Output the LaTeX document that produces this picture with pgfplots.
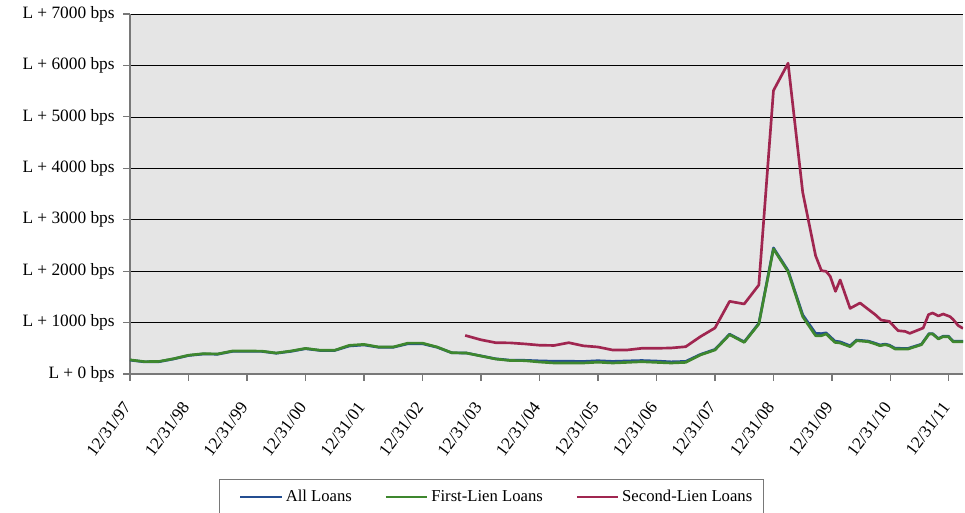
\documentclass[border=0pt]{standalone}
\usepackage{fontspec}
\setmainfont{Liberation Serif}
\usepackage{pgfplots}
\pgfplotsset{compat=1.18}

\definecolor{allblue}{RGB}{36,78,145}
\definecolor{firstgreen}{RGB}{62,135,46}
\definecolor{secondred}{RGB}{160,38,80}
\definecolor{plotbg}{RGB}{229,229,229}
\definecolor{axgray}{RGB}{120,120,120}

\begin{document}
\begin{tikzpicture}
\useasboundingbox (-97.5pt,-103.5pt) rectangle (626.25pt,280.5pt);
\begin{axis}[
    at={(0,0)}, anchor=south west,
    width=624.75pt, height=270pt, scale only axis,
    xmin=0, xmax=14.24, ymin=0, ymax=7000,
    axis background/.style={fill=plotbg},
    axis x line*=bottom, axis y line*=left,
    axis line style={axgray, line width=0.8pt, -},
    tick align=outside, major tick length=5pt,
    tick style={axgray, line width=0.8pt},
    xtick={0,...,14},
    xticklabels={12/31/97,12/31/98,12/31/99,12/31/00,12/31/01,12/31/02,12/31/03,12/31/04,12/31/05,12/31/06,12/31/07,12/31/08,12/31/09,12/31/10,12/31/11},
    xticklabel shift=15pt,
    xticklabel style={rotate=53, anchor=east, font=\fontsize{13}{15}\selectfont},
    ytick={0,1000,...,7000},
    yticklabels={L + 0 bps,L + 1000 bps,L + 2000 bps,L + 3000 bps,L + 4000 bps,L + 5000 bps,L + 6000 bps,L + 7000 bps},
    yticklabel style={font=\fontsize{13}{15}\selectfont, xshift=-3pt},
    ymajorgrids, major grid style={black, line width=0.5pt},
    legend columns=3,
    legend style={at={(0.4334,-0.292)}, anchor=north, draw=axgray, line width=0.6pt,
        font=\fontsize{12.5}{14}\selectfont, inner xsep=6pt, inner ysep=6pt,
        /tikz/column 2/.style={column sep=13.5pt},
        /tikz/column 4/.style={column sep=13.5pt}},
    legend image code/.code={\path (0pt,0pt); \draw[#1, line width=2pt] (9pt,0pt) -- (40pt,0pt);},
    every axis plot/.append style={line width=2pt, line join=round}
]
\addplot[allblue] coordinates {
(0,270)(0.25,236)(0.5,240)(0.75,294)(1,360)(1.25,388)(1.5,385)(1.75,440)(2,440)(2.25,440)(2.5,404)(2.75,440)(3,492)(3.25,458)(3.5,458)(3.75,545)(4,565)(4.25,520)(4.5,520)(4.75,588)(5,588)(5.25,520)(5.5,412)(5.75,408)(6,352)(6.25,296)(6.5,268)(6.75,266)(7,255)(7.25,248)(7.5,248)(7.75,244)(8,258)(8.25,245)(8.5,254)(8.75,262)(9,252)(9.25,236)(9.5,245)(9.75,380)(10,478)(10.25,775)(10.5,625)(10.75,985)(11,2452)(11.25,2010)(11.5,1150)(11.72,790)(11.82,785)(11.9,800)(12.05,640)(12.14,625)(12.31,550)(12.42,660)(12.62,640)(12.74,598)(12.82,565)(12.91,582)(12.98,562)(13.08,500)(13.3,498)(13.53,580)(13.66,785)(13.72,785)(13.82,690)(13.9,735)(13.99,735)(14.07,640)(14.24,640)
};
\addlegendentry{All Loans}
\addplot[firstgreen] coordinates {
(0,275)(0.25,240)(0.5,245)(0.75,298)(1,365)(1.25,395)(1.5,390)(1.75,447)(2,447)(2.25,445)(2.5,408)(2.75,447)(3,498)(3.25,462)(3.5,462)(3.75,557)(4,576)(4.25,525)(4.5,525)(4.75,600)(5,600)(5.25,525)(5.5,414)(5.75,408)(6,350)(6.25,292)(6.5,262)(6.75,259)(7,233)(7.25,214)(7.5,214)(7.75,214)(8,230)(8.25,214)(8.5,226)(8.75,239)(9,226)(9.25,214)(9.5,226)(9.75,370)(10,467)(10.25,765)(10.5,615)(10.75,973)(11,2432)(11.25,1990)(11.5,1115)(11.72,745)(11.82,745)(11.9,778)(12.05,615)(12.14,603)(12.31,531)(12.42,648)(12.62,628)(12.74,584)(12.82,550)(12.91,570)(12.98,550)(13.08,486)(13.3,486)(13.53,570)(13.66,778)(13.72,778)(13.82,681)(13.9,726)(13.99,726)(14.07,628)(14.24,628)
};
\addlegendentry{First-Lien Loans}
\addplot[secondred] coordinates {
(5.73,750)(6,665)(6.25,609)(6.5,605)(6.75,585)(7,560)(7.25,555)(7.5,609)(7.75,548)(8,525)(8.25,467)(8.5,467)(8.75,500)(9,500)(9.25,506)(9.5,531)(9.75,726)(10,895)(10.25,1413)(10.5,1362)(10.75,1731)(11,5512)(11.25,6043)(11.5,3533)(11.72,2301)(11.82,2010)(11.9,1996)(11.97,1899)(12.06,1607)(12.14,1829)(12.31,1276)(12.48,1381)(12.65,1232)(12.74,1154)(12.84,1050)(12.98,1023)(13.13,842)(13.25,829)(13.33,790)(13.56,895)(13.65,1154)(13.72,1187)(13.82,1128)(13.9,1167)(14.02,1115)(14.07,1062)(14.16,940)(14.24,887)
};
\addlegendentry{Second-Lien Loans}
\end{axis}
\end{tikzpicture}
\end{document}
